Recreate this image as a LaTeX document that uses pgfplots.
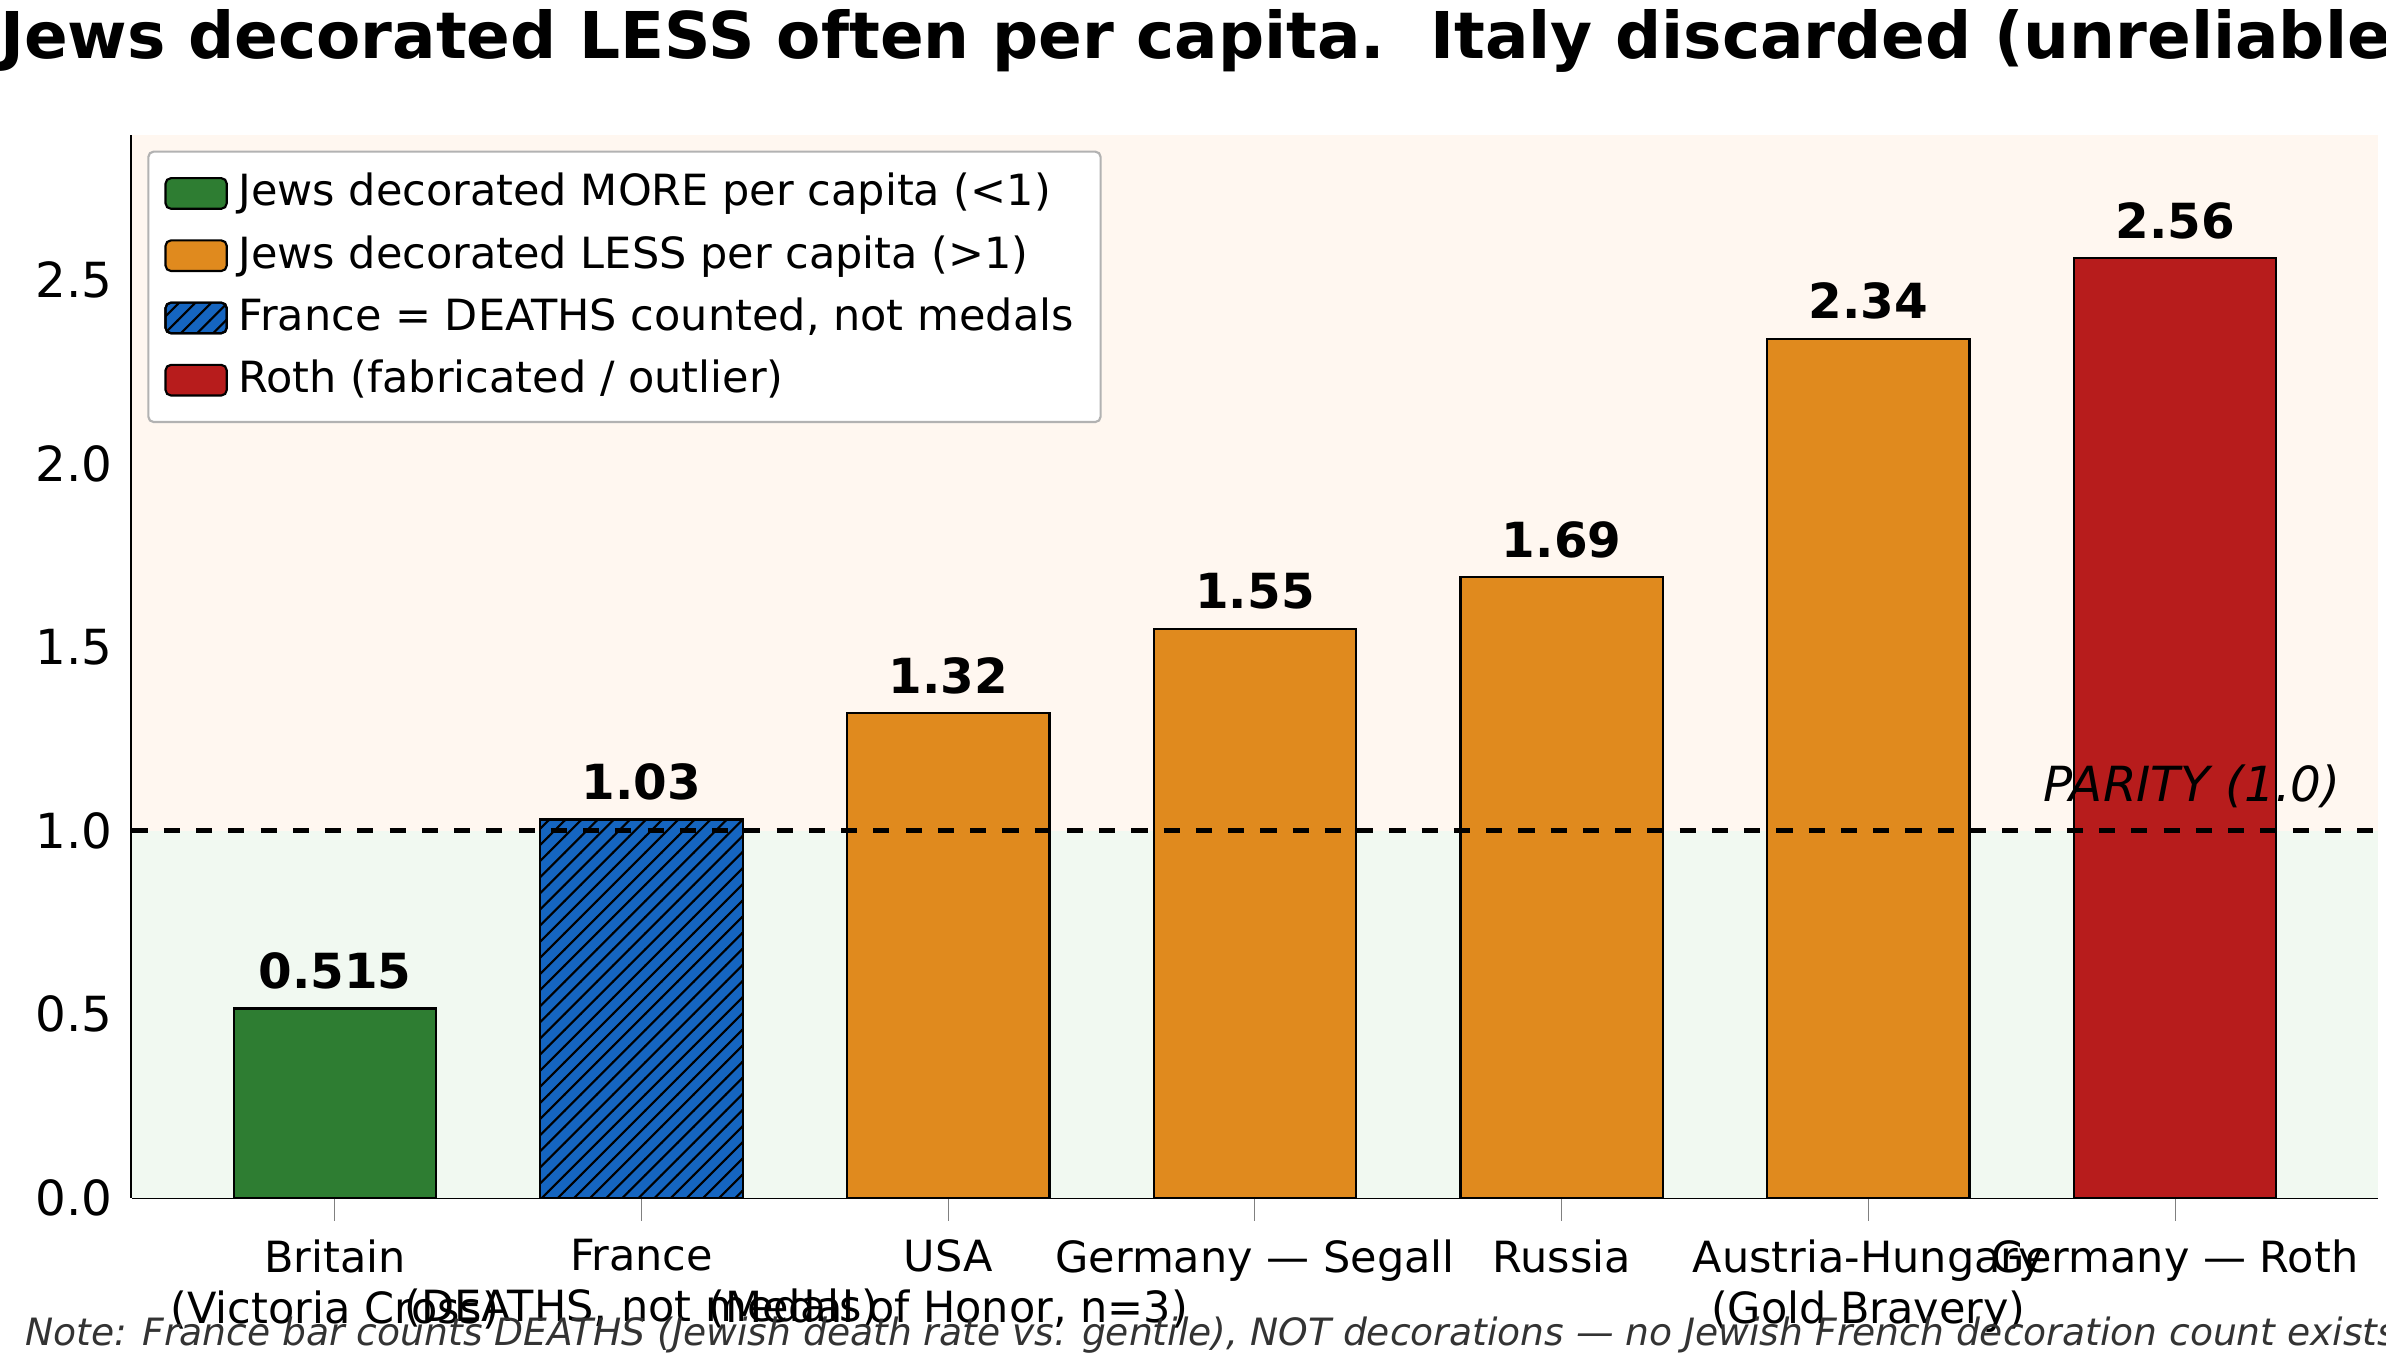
\documentclass[border=0pt]{standalone}
\usepackage{pgfplots}
\pgfplotsset{compat=1.18}
\usepackage{fontspec}
\setmainfont{DejaVu Sans}
\usetikzlibrary{patterns}
\definecolor{cg}{HTML}{2E7D32}
\definecolor{co}{HTML}{E08A1E}
\definecolor{cb}{HTML}{1565C0}
\definecolor{cr}{HTML}{B71C1C}
\begin{document}
\begin{tikzpicture}
\path[use as bounding box] (-0.86,-1.12) rectangle (14.74,7.83);
\begin{axis}[scale only axis, width=14.69cm, height=6.95cm,
 at={(0,0)}, anchor=south west,
 xmin=-0.663, xmax=6.663, ymin=0, ymax=2.896,
 axis x line*=bottom, axis y line*=left,
 xtick={0,...,6}, xticklabels={{Britain\\(Victoria Cross)},{France\\(DEATHS, not medals)},{USA\\(Medal of Honor, n=3)},{Germany — Segall},{Russia},{Austria-Hungary\\(Gold Bravery)},{Germany — Roth}},
 xticklabel style={align=center, font=\footnotesize, anchor=north},
 ytick={0,0.5,...,2.5}, yticklabel style={/pgf/number format/.cd,fixed,fixed zerofill,precision=1}, ticklabel style={font=\small},
 /pgf/number format/assume math mode=true,
 ymajorgrids, grid style={dotted, gray!50},
 ylabel={Per-capita ratio\ \ (Jews-per-award ÷ Gentiles-per-award)}, ylabel style={font=\small},
 title style={font=\bfseries\large, align=center, yshift=2pt},
 title={Jewish vs. Gentile WWI Decoration Rates — Per-Capita Ratio by Country\\Higher = Jews decorated LESS often per capita.\ \ Italy discarded (unreliable numerator).},
 ybar, bar width=0.66, bar shift=0pt,
 nodes near coords, every node near coord/.append style={font=\bfseries\small, /pgf/number format/precision=3},
 legend style={at={(0.007,0.985)}, anchor=north west, font=\footnotesize, draw=gray!60, rounded corners=1pt, cells={anchor=west}},
 legend image code/.code={\draw[#1] (0cm,-0.1cm) rectangle (0.4cm,0.1cm);},
 clip=false, axis on top=false]
\fill[green!40!gray!8] (axis cs:-0.663,0) rectangle (axis cs:6.663,1);
\fill[orange!6] (axis cs:-0.663,1) rectangle (axis cs:6.663,2.896);
\addplot[fill=cg, draw=black] coordinates {(0,0.515)};
\addplot[fill=co, draw=black] coordinates {(2,1.32)(3,1.55)(4,1.69)(5,2.34)};
\addplot[fill=cb, draw=black, postaction={pattern=north east lines}] coordinates {(1,1.03)};
\addplot[fill=cr, draw=black] coordinates {(6,2.56)};
\legend{Jews decorated MORE per capita (<1),Jews decorated LESS per capita (>1),France = DEATHS counted{,} not medals,Roth (fabricated / outlier)}
\draw[black, dashed, thick] (axis cs:-0.663,1) -- (axis cs:6.663,1);
\node[font=\itshape\small, anchor=south east] at (axis cs:6.6,1.01) {PARITY (1.0)};
\end{axis}
\node[anchor=west, font=\itshape\scriptsize, text=black!80] at (-0.82,-0.9) {Note: France bar counts DEATHS (Jewish death rate vs. gentile), NOT decorations — no Jewish French decoration count exists. Lower France ratio = greater sacrifice.};
\end{tikzpicture}
\end{document}
